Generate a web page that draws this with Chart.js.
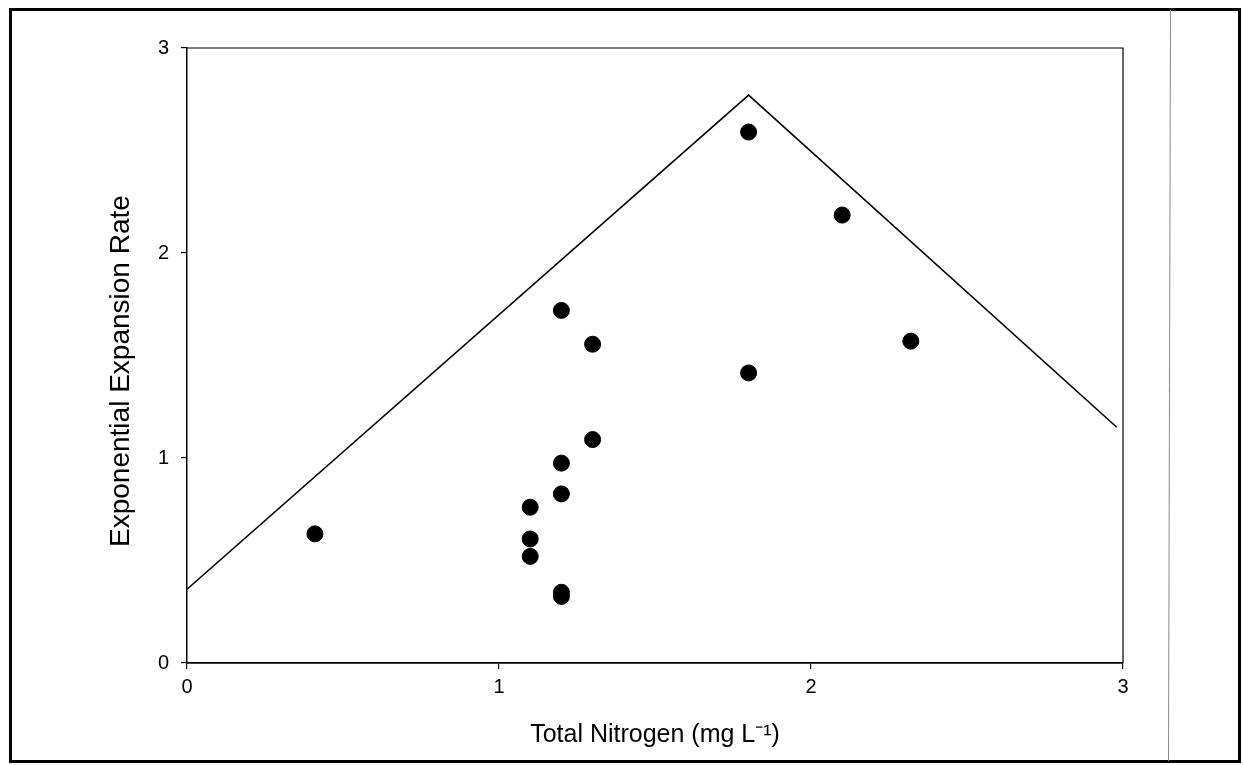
<!DOCTYPE html>
<html>
<head>
<meta charset="utf-8">
<script src="https://cdn.jsdelivr.net/npm/chart.js@4"></script>
<style>
    body { margin: 0; background: #fff; }
    canvas { display: block; }
</style>
</head>
<body>
<canvas id="expansionChart" width="1243" height="765"></canvas>
<script>
    // measured points
    const nitrogen = [0.41, 1.1, 1.1, 1.1, 1.2, 1.2, 1.2, 1.2, 1.2, 1.3, 1.3, 1.8, 1.8, 2.1, 2.32];
    const expansionRate = [0.63, 0.76, 0.605, 0.52, 1.72, 0.975, 0.825, 0.345, 0.325, 1.555, 1.09, 2.59, 1.415, 2.185, 1.57];

    // upper boundary line
    const boundaryX = [0, 1.8, 2.98];
    const boundaryY = [0.36, 2.77, 1.15];

    const xTickLabels = ['0', '1', '2', '3'];
    const yTickLabels = ['0', '1', '2', '3'];

    const font = "'Liberation Sans', Arial, sans-serif";

    const framePlugin = {
        id: 'frame',
        beforeDraw: function (chart) {
            const ctx = chart.ctx;
            ctx.save();
            ctx.fillStyle = '#fff';
            ctx.fillRect(0, 0, chart.width, chart.height);
            ctx.restore();
        },
        afterDraw: function (chart) {
            const ctx = chart.ctx;
            const area = chart.chartArea;
            ctx.save();
            // top and right edges of the plot box
            ctx.strokeStyle = '#000';
            ctx.lineWidth = 1.2;
            ctx.beginPath();
            ctx.moveTo(area.left, area.top);
            ctx.lineTo(area.right, area.top);
            ctx.lineTo(area.right, area.bottom);
            ctx.stroke();
            // page frame
            ctx.lineWidth = 3;
            ctx.strokeRect(10.5, 9.5, 1229, 752);
            ctx.strokeStyle = '#888';
            ctx.lineWidth = 1;
            ctx.beginPath();
            ctx.moveTo(1170.5, 10);
            ctx.lineTo(1168.5, 761);
            ctx.stroke();
            ctx.restore();
        }
    };

    const ctx = document.getElementById('expansionChart').getContext('2d');
    new Chart(ctx, {
        type: 'scatter',
        data: {
            datasets: [
                {
                    type: 'line',
                    data: boundaryX.map((x, i) => ({ x: x, y: boundaryY[i] })),
                    borderColor: '#000',
                    borderWidth: 1.6,
                    pointRadius: 0,
                    fill: false,
                    tension: 0
                },
                {
                    data: nitrogen.map((x, i) => ({ x: x, y: expansionRate[i] })),
                    backgroundColor: '#000',
                    borderColor: '#000',
                    pointRadius: 8,
                    pointHoverRadius: 8
                }
            ]
        },
        options: {
            responsive: false,
            animation: false,
            layout: {
                padding: { left: 0, top: 48, right: 120, bottom: 0 }
            },
            plugins: {
                legend: { display: false },
                tooltip: { enabled: false }
            },
            scales: {
                x: {
                    type: 'linear',
                    min: 0,
                    max: 3,
                    afterFit: function (scale) { scale.height = 102; },
                    afterBuildTicks: function (scale) {
                        scale.ticks = xTickLabels.map(v => ({ value: Number(v) }));
                    },
                    ticks: {
                        color: '#000',
                        font: { family: font, size: 20 },
                        padding: 6,
                        callback: (v, i) => xTickLabels[i]
                    },
                    grid: {
                        drawOnChartArea: false,
                        drawTicks: true,
                        tickLength: 6,
                        color: '#000',
                        lineWidth: 1.2
                    },
                    border: { display: true, color: '#000', width: 1.8 },
                    title: {
                        display: true,
                        text: 'Total Nitrogen (mg L\u207B\u00B9)',
                        color: '#000',
                        font: { family: font, size: 25 },
                        padding: { top: 0, bottom: 15 }
                    }
                },
                y: {
                    type: 'linear',
                    min: 0,
                    max: 3,
                    afterFit: function (scale) { scale.width = 187; },
                    afterBuildTicks: function (scale) {
                        scale.ticks = yTickLabels.map(v => ({ value: Number(v) }));
                    },
                    ticks: {
                        color: '#000',
                        font: { family: font, size: 20 },
                        padding: 12,
                        callback: (v, i) => yTickLabels[i]
                    },
                    grid: {
                        drawOnChartArea: false,
                        drawTicks: true,
                        tickLength: 6,
                        color: '#000',
                        lineWidth: 1.2
                    },
                    border: { display: true, color: '#000', width: 1.5 },
                    title: {
                        display: true,
                        text: 'Exponential Expansion Rate    ',
                        color: '#000',
                        font: { family: font, size: 28 },
                        padding: { top: 104, bottom: 0 }
                    }
                }
            }
        },
        plugins: [framePlugin]
    });
</script>
</body>
</html>
